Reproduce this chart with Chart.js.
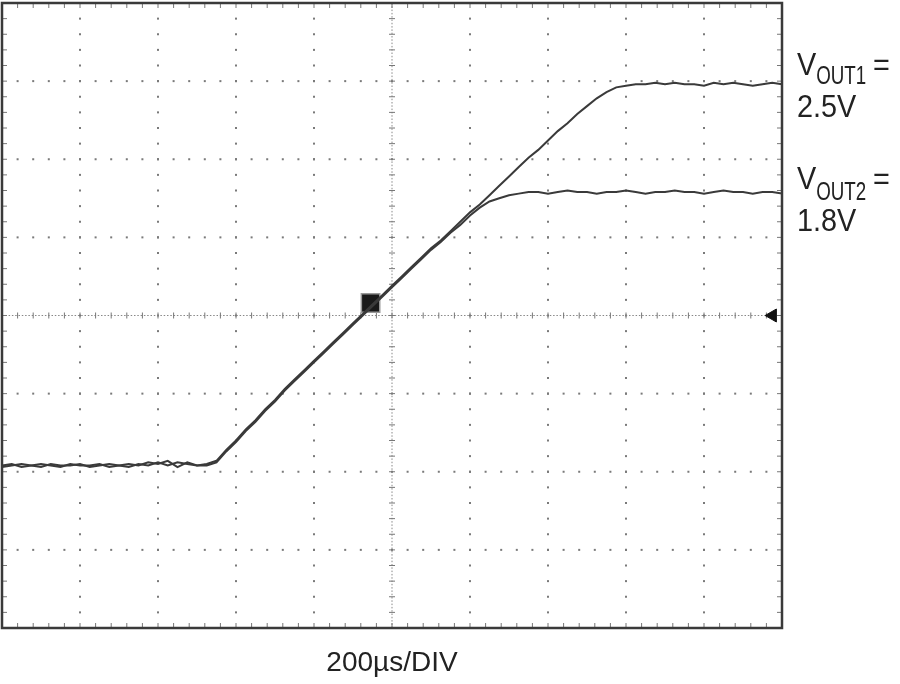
<!DOCTYPE html>
<html>
<head>
<meta charset="utf-8">
<script src="https://cdn.jsdelivr.net/npm/chart.js@4.4.1/dist/chart.umd.min.js"></script>
<style>
  html, body { margin: 0; padding: 0; background: #fff; }
  canvas { display: block; }
</style>
</head>
<body>
<canvas id="scope" width="900" height="684"></canvas>
<script>
// Sample times (µs) read along the 200µs/DIV sweep
const timeUs = [
    0, 25, 50, 75, 100, 125, 150, 175, 200, 225, 250, 275, 300, 325, 350, 375, 400, 425, 450, 475, 500, 525,
    550, 575, 600, 625, 650, 675, 700, 725, 750, 775, 800, 825, 850, 875, 900, 925, 950, 975, 1000,
    1025, 1050, 1075, 1100, 1125, 1150, 1175, 1200, 1225, 1250, 1275, 1300, 1325, 1350, 1375, 1400,
    1425, 1450, 1475, 1500, 1525, 1550, 1575, 1600, 1625, 1650, 1675, 1700, 1725, 1750, 1775, 1800,
    1825, 1850, 1875, 1900, 1925, 1950, 1975, 2000
];

// VOUT1 (2.5V rail), volts
const vout1 = [
    0.00, 0.01, -0.01, 0.00, 0.01, 0.00, -0.01, 0.01, 0.00, 0.00, 0.01, -0.01, 0.00, 0.01, 0.00, 0.02, 0.01, 0.03, -0.01, 0.02, 0.00, 0.01,
    0.03, 0.10, 0.16, 0.23, 0.29, 0.36, 0.42, 0.49, 0.55, 0.61, 0.67, 0.73, 0.79, 0.85, 0.91, 0.97, 1.03, 1.09, 1.15,
    1.21, 1.27, 1.33, 1.39, 1.44, 1.50, 1.56, 1.62, 1.67, 1.73, 1.79, 1.85, 1.91, 1.97, 2.02, 2.08,
    2.14, 2.19, 2.25, 2.30, 2.35, 2.39, 2.42, 2.43, 2.44, 2.44, 2.45, 2.44, 2.45, 2.44, 2.44, 2.43,
    2.45, 2.44, 2.45, 2.44, 2.43, 2.44, 2.45, 2.44
];

// VOUT2 (1.8V rail), volts
const vout2 = [
    -0.01, 0.00, 0.01, 0.00, -0.01, 0.01, 0.00, 0.00, 0.01, -0.01, 0.00, 0.01, 0.00, -0.01, 0.01, 0.00, 0.02, 0.00, 0.02, 0.01, 0.00, 0.00,
    0.02, 0.09, 0.15, 0.22, 0.28, 0.35, 0.41, 0.48, 0.54, 0.60, 0.66, 0.72, 0.78, 0.84, 0.90, 0.96, 1.02, 1.08, 1.14,
    1.20, 1.26, 1.32, 1.38, 1.43, 1.49, 1.54, 1.60, 1.65, 1.69, 1.71, 1.73, 1.74, 1.75, 1.75, 1.74,
    1.75, 1.76, 1.75, 1.75, 1.74, 1.75, 1.75, 1.76, 1.75, 1.74, 1.75, 1.75, 1.76, 1.75, 1.75, 1.74,
    1.75, 1.76, 1.75, 1.75, 1.74, 1.75, 1.75, 1.74
];

// Trigger marker and channel level arrow
const triggerPoint = [{ x: 945, y: 1.04 }];
const levelArrow = [{ x: 1976, y: 0.96 }];

// Screen: 10 x 8 divisions, 200µs/DIV and 0.5V/DIV
const timeRange = [0, 2000];
const voltRange = [-1.04, 2.96];
const timePerDiv = 200;
const voltPerDiv = 0.5;
const xAxisLabel = '200µs/DIV';
const traceLabels = [
    { name: 'V', sub: 'OUT1', value: '2.5V' },
    { name: 'V', sub: 'OUT2', value: '1.8V' }
];

const toPoints = (xs, ys) => xs.map((x, i) => ({ x, y: ys[i] }));

// Oscilloscope graticule, frame and text
const scopeScreen = {
    id: 'scopeScreen',
    beforeDatasetsDraw(chart) {
        const { ctx, chartArea: a, scales: { x, y } } = chart;
        const minorX = timePerDiv / 5, minorY = voltPerDiv / 5;
        const cx = x.getPixelForValue((timeRange[0] + timeRange[1]) / 2);
        const cy = y.getPixelForValue(voltRange[0] + 4 * voltPerDiv);
        ctx.save();
        ctx.fillStyle = '#7a7a7a';

        // dotted major lines
        for (let k = 1; k < 10; k++) {
            if (k === 5) continue;
            const px = x.getPixelForValue(timeRange[0] + k * timePerDiv);
            for (let v = voltRange[0]; v <= voltRange[1] + 1e-6; v += minorY) {
                ctx.fillRect(px - 1, y.getPixelForValue(v) - 1, 2, 2);
            }
        }
        for (let k = 1; k < 8; k++) {
            if (k === 4) continue;
            const py = y.getPixelForValue(voltRange[0] + k * voltPerDiv);
            for (let t = timeRange[0]; t <= timeRange[1] + 1e-6; t += minorX) {
                ctx.fillRect(x.getPixelForValue(t) - 1, py - 1, 2, 2);
            }
        }

        // center crosshair
        ctx.strokeStyle = '#888';
        ctx.lineWidth = 1;
        ctx.setLineDash([1.5, 1.8]);
        ctx.beginPath();
        ctx.moveTo(a.left, cy); ctx.lineTo(a.right, cy);
        ctx.moveTo(cx, a.top); ctx.lineTo(cx, a.bottom);
        ctx.stroke();
        ctx.setLineDash([]);
        ctx.strokeStyle = '#777';
        ctx.beginPath();
        for (let t = timeRange[0]; t <= timeRange[1] + 1e-6; t += minorX) {
            const px = x.getPixelForValue(t);
            ctx.moveTo(px, cy - 3); ctx.lineTo(px, cy + 3);
            ctx.moveTo(px, a.top); ctx.lineTo(px, a.top + 5);
            ctx.moveTo(px, a.bottom); ctx.lineTo(px, a.bottom - 5);
        }
        for (let v = voltRange[0]; v <= voltRange[1] + 1e-6; v += minorY) {
            const py = y.getPixelForValue(v);
            ctx.moveTo(cx - 3, py); ctx.lineTo(cx + 3, py);
            ctx.moveTo(a.left, py); ctx.lineTo(a.left + 5, py);
            ctx.moveTo(a.right, py); ctx.lineTo(a.right - 5, py);
        }
        ctx.stroke();

        // frame
        ctx.strokeStyle = '#3a3a3a';
        ctx.lineWidth = 2.5;
        ctx.strokeRect(a.left, a.top, a.right - a.left, a.bottom - a.top);
        ctx.restore();
    },
    afterDraw(chart) {
        const { ctx, chartArea: a } = chart;
        ctx.save();
        ctx.fillStyle = '#222';
        ctx.textBaseline = 'alphabetic';

        // x axis caption
        ctx.font = '28px "Liberation Sans", Arial, sans-serif';
        ctx.textAlign = 'center';
        ctx.fillText(xAxisLabel, (a.left + a.right) / 2, 671);

        // trace labels, condensed
        ctx.textAlign = 'left';
        const rows = [75, 189];
        traceLabels.forEach((lab, i) => {
            const base = rows[i];
            const x0 = a.right + 15;
            ctx.save();
            ctx.translate(x0, base);
            ctx.scale(0.93, 1);
            ctx.font = '31px "Liberation Sans", Arial, sans-serif';
            ctx.fillText(lab.name, 0, 0);
            const vw = ctx.measureText(lab.name).width;
            ctx.fillText(lab.value, 0, 42);
            ctx.restore();

            ctx.save();
            ctx.translate(x0 + vw * 0.93, base + 9 + i * 2);
            ctx.scale(0.75, 1);
            ctx.font = '25px "Liberation Sans", Arial, sans-serif';
            ctx.fillText(lab.sub, 0, 0);
            ctx.restore();

            ctx.save();
            ctx.translate(a.right + 91, base);
            ctx.scale(0.93, 1);
            ctx.font = '31px "Liberation Sans", Arial, sans-serif';
            ctx.fillText('=', 0, 0);
            ctx.restore();
        });
        ctx.restore();
    }
};

const ctx = document.getElementById('scope').getContext('2d');
new Chart(ctx, {
    type: 'scatter',
    data: {
        datasets: [
            {
                label: 'VOUT2',
                data: toPoints(timeUs, vout2),
                showLine: true,
                borderColor: '#3a3a3a',
                borderWidth: 2,
                pointRadius: 0,
                tension: 0
            },
            {
                label: 'VOUT1',
                data: toPoints(timeUs, vout1),
                showLine: true,
                borderColor: '#3a3a3a',
                borderWidth: 2,
                pointRadius: 0,
                tension: 0
            },
            {
                label: 'Trigger',
                data: triggerPoint,
                pointStyle: 'rect',
                pointRadius: 13,
                backgroundColor: '#1a1a1a',
                borderColor: '#999',
                borderWidth: 1.5
            },
            {
                label: 'Level',
                data: levelArrow,
                pointStyle: 'triangle',
                rotation: -90,
                pointRadius: 7.5,
                backgroundColor: '#111',
                borderColor: '#111',
                borderWidth: 1
            }
        ]
    },
    options: {
        responsive: false,
        animation: false,
        layout: { autoPadding: false, padding: { left: 2, top: 3, right: 118, bottom: 56 } },
        plugins: { legend: { display: false }, tooltip: { enabled: false } },
        scales: {
            x: { type: 'linear', min: timeRange[0], max: timeRange[1], display: false },
            y: { type: 'linear', min: voltRange[0], max: voltRange[1], display: false }
        }
    },
    plugins: [scopeScreen]
});
</script>
</body>
</html>
